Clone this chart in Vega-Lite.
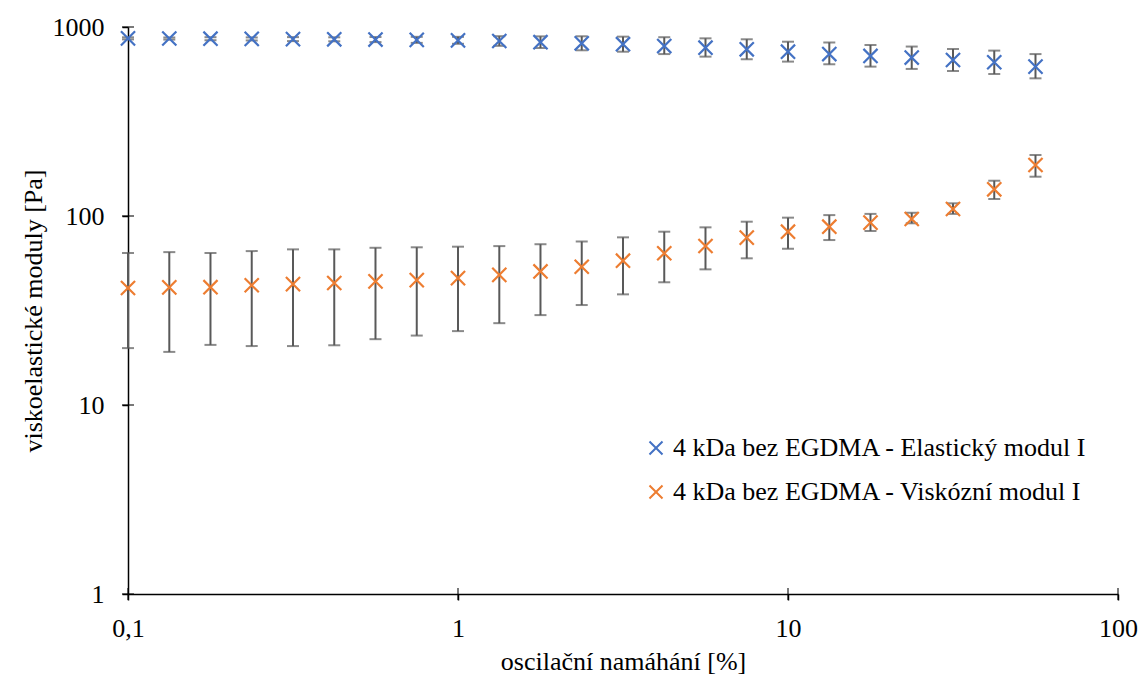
{
  "$schema": "https://vega.github.io/schema/vega-lite/v6.json",
  "width": 990,
  "height": 567,
  "autosize": "none",
  "padding": {"left": 128, "top": 27, "right": 27, "bottom": 85},
  "background": "white",
  "config": {
    "font": "Liberation Serif",
    "view": {"stroke": null},
    "axis": {
      "grid": false,
      "domainColor": "black",
      "domainWidth": 1.5,
      "tickColor": "black",
      "tickWidth": 1.5,
      "tickSize": 6,
      "labelFont": "Liberation Serif",
      "labelFontSize": 26,
      "labelColor": "black",
      "titleFont": "Liberation Serif",
      "titleFontSize": 26,
      "titleFontWeight": "normal",
      "titleColor": "black"
    }
  },
  "datasets": {
    "d": [
      {"x": 0.1, "s": "4 kDa bez EGDMA - Elastický modul I", "v": 871, "lo": 860, "hi": 882},
      {"x": 0.1334, "s": "4 kDa bez EGDMA - Elastický modul I", "v": 869, "lo": 858, "hi": 880},
      {"x": 0.1778, "s": "4 kDa bez EGDMA - Elastický modul I", "v": 867, "lo": 851, "hi": 883},
      {"x": 0.2371, "s": "4 kDa bez EGDMA - Elastický modul I", "v": 865, "lo": 849, "hi": 881},
      {"x": 0.3162, "s": "4 kDa bez EGDMA - Elastický modul I", "v": 863, "lo": 842, "hi": 884},
      {"x": 0.4217, "s": "4 kDa bez EGDMA - Elastický modul I", "v": 861, "lo": 840, "hi": 882},
      {"x": 0.5623, "s": "4 kDa bez EGDMA - Elastický modul I", "v": 858, "lo": 832, "hi": 885},
      {"x": 0.7499, "s": "4 kDa bez EGDMA - Elastický modul I", "v": 855, "lo": 824, "hi": 887},
      {"x": 1, "s": "4 kDa bez EGDMA - Elastický modul I", "v": 850, "lo": 815, "hi": 887},
      {"x": 1.334, "s": "4 kDa bez EGDMA - Elastický modul I", "v": 843, "lo": 795, "hi": 894},
      {"x": 1.778, "s": "4 kDa bez EGDMA - Elastický modul I", "v": 831, "lo": 774, "hi": 892},
      {"x": 2.371, "s": "4 kDa bez EGDMA - Elastický modul I", "v": 820, "lo": 753, "hi": 893},
      {"x": 3.162, "s": "4 kDa bez EGDMA - Elastický modul I", "v": 811, "lo": 740, "hi": 889},
      {"x": 4.217, "s": "4 kDa bez EGDMA - Elastický modul I", "v": 793, "lo": 719, "hi": 883},
      {"x": 5.623, "s": "4 kDa bez EGDMA - Elastický modul I", "v": 777, "lo": 697, "hi": 871},
      {"x": 7.499, "s": "4 kDa bez EGDMA - Elastický modul I", "v": 762, "lo": 675, "hi": 861},
      {"x": 10, "s": "4 kDa bez EGDMA - Elastický modul I", "v": 740, "lo": 656, "hi": 836},
      {"x": 13.34, "s": "4 kDa bez EGDMA - Elastický modul I", "v": 719, "lo": 635, "hi": 828},
      {"x": 17.78, "s": "4 kDa bez EGDMA - Elastický modul I", "v": 703, "lo": 617, "hi": 803},
      {"x": 23.71, "s": "4 kDa bez EGDMA - Elastický modul I", "v": 689, "lo": 600, "hi": 788},
      {"x": 31.62, "s": "4 kDa bez EGDMA - Elastický modul I", "v": 669, "lo": 585, "hi": 765},
      {"x": 42.17, "s": "4 kDa bez EGDMA - Elastický modul I", "v": 651, "lo": 564, "hi": 750},
      {"x": 56.23, "s": "4 kDa bez EGDMA - Elastický modul I", "v": 617, "lo": 535, "hi": 719},
      {"x": 0.1, "s": "4 kDa bez EGDMA - Viskózní modul I", "v": 41.6, "lo": 20.0, "hi": 63.7},
      {"x": 0.1334, "s": "4 kDa bez EGDMA - Viskózní modul I", "v": 41.9, "lo": 19.1, "hi": 64.4},
      {"x": 0.1778, "s": "4 kDa bez EGDMA - Viskózní modul I", "v": 42.0, "lo": 20.8, "hi": 63.7},
      {"x": 0.2371, "s": "4 kDa bez EGDMA - Viskózní modul I", "v": 43.0, "lo": 20.5, "hi": 65.2},
      {"x": 0.3162, "s": "4 kDa bez EGDMA - Viskózní modul I", "v": 43.6, "lo": 20.5, "hi": 66.6},
      {"x": 0.4217, "s": "4 kDa bez EGDMA - Viskózní modul I", "v": 44.2, "lo": 20.7, "hi": 66.6},
      {"x": 0.5623, "s": "4 kDa bez EGDMA - Viskózní modul I", "v": 45.1, "lo": 22.3, "hi": 67.9},
      {"x": 0.7499, "s": "4 kDa bez EGDMA - Viskózní modul I", "v": 45.8, "lo": 23.3, "hi": 68.3},
      {"x": 1, "s": "4 kDa bez EGDMA - Viskózní modul I", "v": 46.9, "lo": 24.6, "hi": 68.8},
      {"x": 1.334, "s": "4 kDa bez EGDMA - Viskózní modul I", "v": 48.8, "lo": 27.1, "hi": 69.3},
      {"x": 1.778, "s": "4 kDa bez EGDMA - Viskózní modul I", "v": 50.9, "lo": 29.9, "hi": 70.9},
      {"x": 2.371, "s": "4 kDa bez EGDMA - Viskózní modul I", "v": 53.9, "lo": 33.8, "hi": 73.3},
      {"x": 3.162, "s": "4 kDa bez EGDMA - Viskózní modul I", "v": 58.0, "lo": 38.5, "hi": 77.1},
      {"x": 4.217, "s": "4 kDa bez EGDMA - Viskózní modul I", "v": 63.5, "lo": 44.6, "hi": 82.6},
      {"x": 5.623, "s": "4 kDa bez EGDMA - Viskózní modul I", "v": 69.4, "lo": 52.2, "hi": 87.1},
      {"x": 7.499, "s": "4 kDa bez EGDMA - Viskózní modul I", "v": 76.8, "lo": 59.7, "hi": 93.3},
      {"x": 10, "s": "4 kDa bez EGDMA - Viskózní modul I", "v": 82.6, "lo": 67.1, "hi": 98.0},
      {"x": 13.34, "s": "4 kDa bez EGDMA - Viskózní modul I", "v": 87.8, "lo": 74.6, "hi": 101.1},
      {"x": 17.78, "s": "4 kDa bez EGDMA - Viskózní modul I", "v": 92.2, "lo": 83.3, "hi": 102.6},
      {"x": 23.71, "s": "4 kDa bez EGDMA - Viskózní modul I", "v": 96.4, "lo": 91.5, "hi": 104.0},
      {"x": 31.62, "s": "4 kDa bez EGDMA - Viskózní modul I", "v": 108.9, "lo": 102.6, "hi": 116.7},
      {"x": 42.17, "s": "4 kDa bez EGDMA - Viskózní modul I", "v": 138.4, "lo": 123.0, "hi": 153.7},
      {"x": 56.23, "s": "4 kDa bez EGDMA - Viskózní modul I", "v": 186.2, "lo": 161.4, "hi": 210.3}
    ]
  },
  "layer": [
    {
      "data": {"name": "d"},
      "mark": {"type": "rule", "color": "#595959", "strokeWidth": 2},
      "encoding": {
        "x": {"field": "x", "type": "quantitative", "scale": {"type": "log", "domain": [0.1, 100]},
          "axis": {"values": [0.1, 1, 10, 100], "labelExpr": "datum.value < 0.5 ? '0,1' : format(datum.value, 'd')", "labelPadding": 15, "title": "oscilační namáhání [%]", "titlePadding": 7, "labelFlush": false}},
        "y": {"field": "lo", "type": "quantitative", "scale": {"type": "log", "domain": [1, 1000]},
          "axis": {"values": [1, 10, 100, 1000], "format": "d", "labelPadding": 18, "title": "viskoelastické moduly [Pa]", "titlePadding": 6, "labelFlush": false}},
        "y2": {"field": "hi"}
      }
    },
    {
      "data": {"name": "d"},
      "mark": {"type": "tick", "orient": "horizontal", "size": 12, "thickness": 2, "color": "#595959"},
      "encoding": {
        "x": {"field": "x", "type": "quantitative", "scale": {"type": "log", "domain": [0.1, 100]},
          "axis": {"values": [0.1, 1, 10, 100], "labelExpr": "datum.value < 0.5 ? '0,1' : format(datum.value, 'd')", "labelPadding": 15, "title": "oscilační namáhání [%]", "titlePadding": 7, "labelFlush": false}},
        "y": {"field": "lo", "type": "quantitative", "scale": {"type": "log", "domain": [1, 1000]},
          "axis": {"values": [1, 10, 100, 1000], "format": "d", "labelPadding": 18, "title": "viskoelastické moduly [Pa]", "titlePadding": 6, "labelFlush": false}}
      }
    },
    {
      "data": {"name": "d"},
      "mark": {"type": "tick", "orient": "horizontal", "size": 12, "thickness": 2, "color": "#595959"},
      "encoding": {
        "x": {"field": "x", "type": "quantitative", "scale": {"type": "log", "domain": [0.1, 100]},
          "axis": {"values": [0.1, 1, 10, 100], "labelExpr": "datum.value < 0.5 ? '0,1' : format(datum.value, 'd')", "labelPadding": 15, "title": "oscilační namáhání [%]", "titlePadding": 7, "labelFlush": false}},
        "y": {"field": "hi", "type": "quantitative", "scale": {"type": "log", "domain": [1, 1000]},
          "axis": {"values": [1, 10, 100, 1000], "format": "d", "labelPadding": 18, "title": "viskoelastické moduly [Pa]", "titlePadding": 6, "labelFlush": false}}
      }
    },
    {
      "data": {"values": [{"x": 0.1, "v": 1}, {"x": 0.1, "v": 10}, {"x": 0.1, "v": 100}, {"x": 0.1, "v": 1000}]},
      "mark": {"type": "tick", "orient": "horizontal", "size": 12, "thickness": 1.5, "color": "black"},
      "encoding": {
        "x": {"field": "x", "type": "quantitative", "scale": {"type": "log", "domain": [0.1, 100]},
          "axis": {"values": [0.1, 1, 10, 100], "labelExpr": "datum.value < 0.5 ? '0,1' : format(datum.value, 'd')", "labelPadding": 15, "title": "oscilační namáhání [%]", "titlePadding": 7, "labelFlush": false}},
        "y": {"field": "v", "type": "quantitative", "scale": {"type": "log", "domain": [1, 1000]},
          "axis": {"values": [1, 10, 100, 1000], "format": "d", "labelPadding": 18, "title": "viskoelastické moduly [Pa]", "titlePadding": 6, "labelFlush": false}}
      }
    },
    {
      "data": {"values": [{"x": 0.1, "v": 1}, {"x": 1, "v": 1}, {"x": 10, "v": 1}, {"x": 100, "v": 1}]},
      "mark": {"type": "tick", "orient": "vertical", "size": 12, "thickness": 1.5, "color": "black"},
      "encoding": {
        "x": {"field": "x", "type": "quantitative", "scale": {"type": "log", "domain": [0.1, 100]},
          "axis": {"values": [0.1, 1, 10, 100], "labelExpr": "datum.value < 0.5 ? '0,1' : format(datum.value, 'd')", "labelPadding": 15, "title": "oscilační namáhání [%]", "titlePadding": 7, "labelFlush": false}},
        "y": {"field": "v", "type": "quantitative", "scale": {"type": "log", "domain": [1, 1000]},
          "axis": {"values": [1, 10, 100, 1000], "format": "d", "labelPadding": 18, "title": "viskoelastické moduly [Pa]", "titlePadding": 6, "labelFlush": false}}
      }
    },
    {
      "data": {"name": "d"},
      "mark": {"type": "point", "shape": "M-1,-1L1,1M-1,1L1,-1", "size": 200, "filled": false, "strokeWidth": 2.2, "opacity": 1},
      "encoding": {
        "x": {"field": "x", "type": "quantitative", "scale": {"type": "log", "domain": [0.1, 100]},
          "axis": {"values": [0.1, 1, 10, 100], "labelExpr": "datum.value < 0.5 ? '0,1' : format(datum.value, 'd')", "labelPadding": 15, "title": "oscilační namáhání [%]", "titlePadding": 7, "labelFlush": false}},
        "y": {"field": "v", "type": "quantitative", "scale": {"type": "log", "domain": [1, 1000]},
          "axis": {"values": [1, 10, 100, 1000], "format": "d", "labelPadding": 18, "title": "viskoelastické moduly [Pa]", "titlePadding": 6, "labelFlush": false}},
        "color": {"field": "s", "type": "nominal",
          "scale": {"domain": ["4 kDa bez EGDMA - Elastický modul I", "4 kDa bez EGDMA - Viskózní modul I"], "range": ["#4472C4", "#ED7D31"]},
          "legend": {"orient": "none", "legendX": 515, "legendY": 408, "title": null, "labelFont": "Liberation Serif", "labelFontSize": 26, "labelColor": "black", "labelLimit": 600, "symbolType": "M-1,-1L1,1M-1,1L1,-1", "symbolSize": 170, "symbolStrokeWidth": 2, "rowPadding": 18, "labelOffset": 4}}
      }
    }
  ]
}
